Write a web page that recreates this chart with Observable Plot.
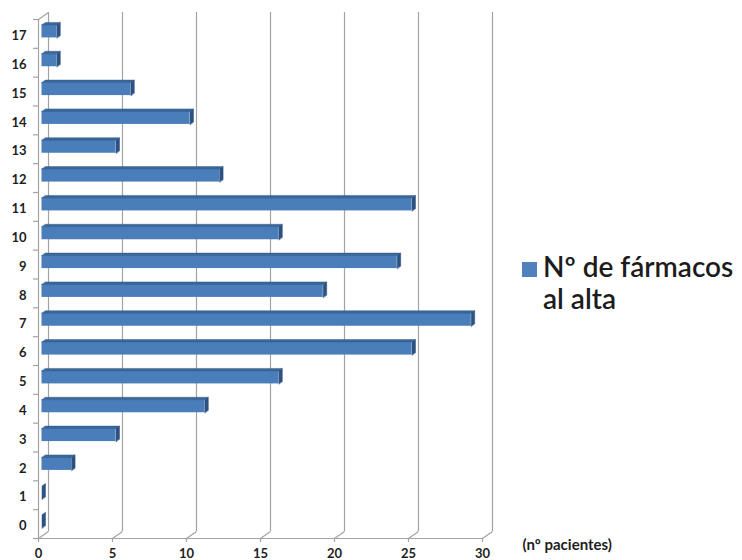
<!DOCTYPE html>
<html>
<head>
<meta charset="utf-8">
<script src="https://cdn.jsdelivr.net/npm/d3@7"></script>
<script src="https://cdn.jsdelivr.net/npm/@observablehq/plot@0.6"></script>
<style>
  html, body { margin: 0; padding: 0; background: #fff; }
  #wrap { position: relative; width: 742px; height: 560px; font-family: Lato, "Open Sans", sans-serif; }
  #wrap svg { position: absolute; left: 0; top: 0; }
  .legend { position: absolute; left: 522px; top: 250px; color: #1c1c1c; font-size: 28px; font-weight: 600; line-height: 32px; }
  .legend .sw { position: absolute; left: 0; top: 12px; width: 15px; height: 15px; background: #4F81BD; }
  .legend .lbl { position: absolute; left: 21px; top: 0; white-space: nowrap; }
</style>
</head>
<body>
<div id="wrap"></div>
<script>
// Number of drugs at discharge (0–17) and number of patients for each
const categories = [0, 1, 2, 3, 4, 5, 6, 7, 8, 9, 10, 11, 12, 13, 14, 15, 16, 17];
const patients   = [0, 0, 2, 5, 11, 16, 25, 29, 19, 24, 16, 25, 12, 5, 10, 6, 1, 1];
const xTicks = [0, 5, 10, 15, 20, 25, 30];
const seriesName = ["Nº de fármacos", "al alta"];
const xTitle = "(nº pacientes)";

const rows = categories.map((c, i) => ({cat: c, n: patients[i]}));

// Frame geometry
const W = 742, H = 560;
const mL = 38, mR = 260, mT = 19, mB = 22;
const pxX = (W - mL - mR) / 30;          // pixels per patient
const pxY = (H - mT - mB) / 18;          // pixels per category band

// Perspective depth of the back wall and of each bar, in data units
const wallX = 10 / pxX, wallY = 7 / pxY;
const barX = 3.5 / pxX, barY = 2.5 / pxY;
const half = 6.5 / pxY;                  // half the bar thickness
const boundaries = d3.range(-0.5, 18, 1);

// Top face and end cap of every bar as closed polygons
const tops = rows.flatMap(d => [
  {cat: d.cat, x: 0, y: d.cat + half},
  {cat: d.cat, x: d.n, y: d.cat + half},
  {cat: d.cat, x: d.n + barX, y: d.cat + half + barY},
  {cat: d.cat, x: barX, y: d.cat + half + barY}
]);
const caps = rows.flatMap(d => [
  {cat: d.cat, x: d.n, y: d.cat - half},
  {cat: d.cat, x: d.n, y: d.cat + half},
  {cat: d.cat, x: d.n + barX, y: d.cat + half + barY},
  {cat: d.cat, x: d.n + barX, y: d.cat - half + barY}
]);

const grid = "#a3a3a3";
const face = "#4A7EBB";

const chart = Plot.plot({
  width: W,
  height: H,
  marginLeft: mL, marginRight: mR, marginTop: mT, marginBottom: mB,
  x: {domain: [0, 30], axis: null},
  y: {domain: [-0.5, 17.5], axis: null},
  style: {fontFamily: "Lato, 'Open Sans', sans-serif", background: "transparent"},
  marks: [
    // back wall gridlines and floor connectors
    Plot.ruleX(xTicks, {x: d => d + wallX, y1: -0.5 + wallY, y2: 17.5 + wallY, stroke: grid, strokeWidth: 1.2}),
    Plot.link(xTicks, {x1: d => d, y1: -0.5, x2: d => d + wallX, y2: -0.5 + wallY, stroke: grid, strokeWidth: 1.2}),
    Plot.link([0], {x1: 0, y1: 17.5, x2: wallX, y2: 17.5 + wallY, stroke: grid, strokeWidth: 1.2}),
    // front axes
    Plot.ruleY([-0.5], {x1: 0, x2: 30, stroke: grid, strokeWidth: 1.2}),
    Plot.ruleX([0], {y1: -0.5, y2: 17.5, stroke: grid, strokeWidth: 1.2}),
    Plot.ruleY(boundaries, {x1: -5 / pxX, x2: 0, stroke: grid, strokeWidth: 1.2}),
    Plot.ruleX(xTicks, {y1: -0.5, y2: -0.5 - 4 / pxY, stroke: grid, strokeWidth: 1.2}),
    // bars
    Plot.rect(rows, {x1: 0, x2: "n", y1: d => d.cat - half, y2: d => d.cat + half, dx: 3.5, dy: -2.5, fill: face}),
    Plot.line(tops, {x: "x", y: "y", z: "cat", curve: "linear-closed", fill: "#3A6699", stroke: "#35608f", strokeWidth: 0.5, dx: 3.5, dy: -2.5}),
    Plot.line(caps, {x: "x", y: "y", z: "cat", curve: "linear-closed", fill: "#2C5282", stroke: "#2C5282", strokeWidth: 0.5, dx: 3.5, dy: -2.5}),
    // tick labels
    Plot.text(rows, {x: 0, y: "cat", text: d => String(d.cat), dx: -12, dy: 2, textAnchor: "end", fontSize: 13, fontWeight: 700, fill: "#1e1e1e"}),
    Plot.text(xTicks, {x: d => d, y: -0.5, text: d => String(d), dy: 15, fontSize: 13, fontWeight: 700, fill: "#1e1e1e"}),
    Plot.text([xTitle], {frameAnchor: "bottom-right", text: d => d, textAnchor: "start", dx: 40, dy: 11, fontSize: 15, fontWeight: 700, fill: "#1e1e1e"})
  ]
});

const wrap = document.getElementById("wrap");
wrap.appendChild(chart);

const legend = document.createElement("div");
legend.className = "legend";
legend.innerHTML = `<div class="sw"></div><div class="lbl">${seriesName[0]}<br>${seriesName[1]}</div>`;
wrap.appendChild(legend);
</script>
</body>
</html>
